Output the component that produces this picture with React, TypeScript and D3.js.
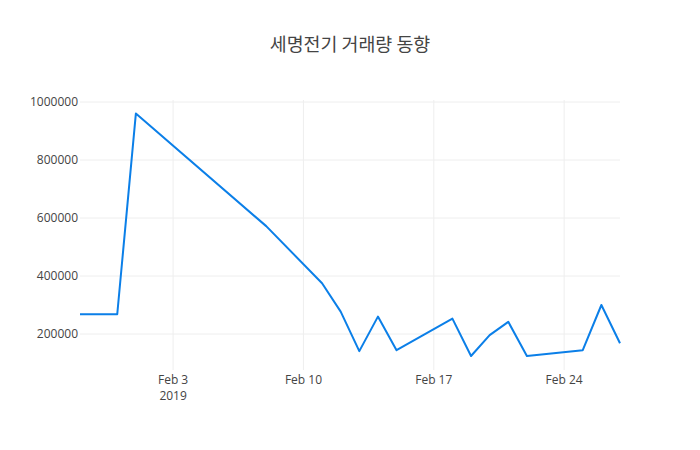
import React from "react";
import * as d3 from "d3";

const title = "세명전기 거래량 동향";
const dates = [
  "2019-01-29", "2019-01-30", "2019-01-31", "2019-02-01", "2019-02-08",
  "2019-02-11", "2019-02-12", "2019-02-13", "2019-02-14", "2019-02-15",
  "2019-02-18", "2019-02-19", "2019-02-20", "2019-02-21", "2019-02-22",
  "2019-02-25", "2019-02-26", "2019-02-27",
];
const volumes = [
  268000, 268000, 268000, 960000, 572000,
  375000, 277000, 141000, 260000, 144000,
  253000, 124000, 196000, 242000, 124000,
  144000, 300000, 168000,
];
const yTicks = [200000, 400000, 600000, 800000, 1000000];
const xTickDates = ["2019-02-03", "2019-02-10", "2019-02-17", "2019-02-24"];
const xTickLabels = ["Feb 3", "Feb 10", "Feb 17", "Feb 24"];
const xTickSub = ["2019", "", "", ""];

const W = 700, H = 450;
const M = { l: 80, r: 80, t: 100, b: 80 };

export default function App() {
  const parse = (s: string) => new Date(s + "T00:00:00Z");
  const data = dates.map((d, i) => ({ d: parse(d), v: volumes[i] }));
  const x = d3.scaleUtc()
    .domain(d3.extent(data, (p) => p.d) as [Date, Date])
    .range([M.l, W - M.r]);
  const y = d3.scaleLinear()
    .domain([75862, 1006897])
    .range([H - M.b, M.t]);
  const line = d3.line<{ d: Date; v: number }>()
    .x((p) => x(p.d))
    .y((p) => y(p.v));
  const font = "'Open Sans', sans-serif";
  return (
    <svg width={W} height={H} style={{ position: "absolute", left: 0, top: 0, background: "#fff" }}>
      <g>
        {yTicks.map((t) => (
          <line key={"gy" + t} x1={M.l} x2={W - M.r} y1={y(t)} y2={y(t)} stroke="#eee" strokeWidth={1} />
        ))}
        {xTickDates.map((t) => (
          <line key={"gx" + t} x1={x(parse(t))} x2={x(parse(t))} y1={M.t} y2={H - M.b} stroke="#eee" strokeWidth={1} />
        ))}
      </g>
      <path d={line(data) || ""} fill="none" stroke="#0b7fe8" strokeWidth={2} strokeLinejoin="round" />
      <g fontFamily={font} fontSize={12} fill="#444">
        {yTicks.map((t) => (
          <text key={"ty" + t} x={M.l - 2} y={y(t)} dy="0.35em" textAnchor="end">{String(t)}</text>
        ))}
        {xTickDates.map((t, i) => (
          <text key={"tx" + t} x={x(parse(t))} y={384} textAnchor="middle">
            {xTickLabels[i]}
            {xTickSub[i] ? <tspan x={x(parse(t))} dy="15.5">{xTickSub[i]}</tspan> : null}
          </text>
        ))}
      </g>
      <text x={W / 2} y={50.5} textAnchor="middle" fontFamily="'Noto Sans CJK KR', sans-serif" fontSize={18.4} fill="#444">{title}</text>
    </svg>
  );
}
